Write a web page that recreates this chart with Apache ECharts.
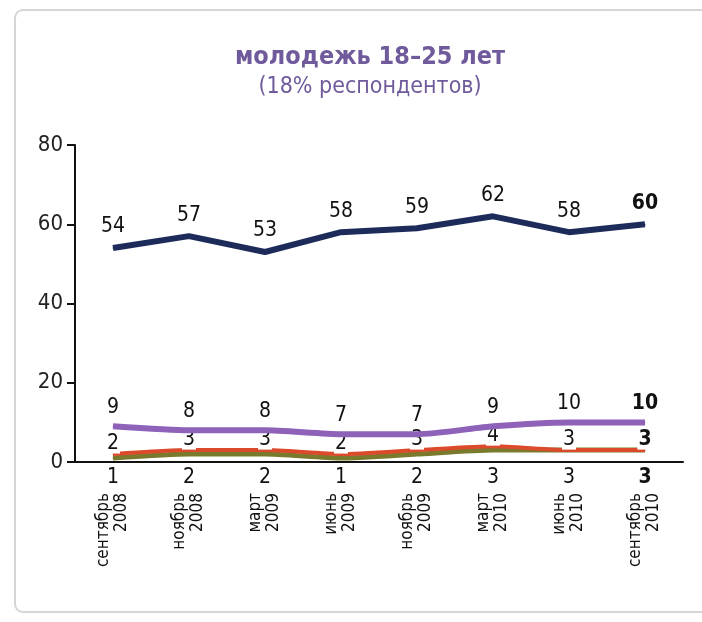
<!DOCTYPE html>
<html>
<head>
<meta charset="utf-8">
<script src="https://cdn.jsdelivr.net/npm/echarts@6/dist/echarts.min.js"></script>
<style>
  html, body { margin: 0; padding: 0; background: #fff; }
  #chart { width: 702px; height: 622px; }
</style>
</head>
<body>
<div id="chart"></div>
<script>
  // опросы, молодежь 18-25 лет
  var months = ['сентябрь\n2008', 'ноябрь\n2008', 'март\n2009', 'июнь\n2009',
                'ноябрь\n2009', 'март\n2010', 'июнь\n2010', 'сентябрь\n2010'];
  var navyVals   = [54, 57, 53, 58, 59, 62, 58, 60];
  var purpleVals = [9, 8, 8, 7, 7, 9, 10, 10];
  var redVals    = [2, 3, 3, 2, 3, 4, 3, 3];
  var oliveVals  = [1, 2, 2, 1, 2, 3, 3, 3];
  var yTicks     = [0, 20, 40, 60, 80];

  var font = '"Liberation Sans Narrow", "DejaVu Sans Condensed", "DejaVu Sans", sans-serif';
  var last = months.length - 1;

  // последняя точка - жирным
  function withBold(arr) {
    return arr.map(function (v, i) {
      return i === last ? { value: v, label: { fontWeight: 'bold' } } : v;
    });
  }

  // подпись у линии видна только если есть символ, поэтому делаем его крошечным
  function lineSeries(name, vals, color, width, label, z, smooth) {
    return {
      name: name,
      type: 'line',
      data: withBold(vals),
      symbol: 'circle',
      symbolSize: 1,
      smooth: smooth,
      itemStyle: { color: color },
      lineStyle: { color: color, width: width },
      label: label,
      z: z
    };
  }

  var chart = echarts.init(document.getElementById('chart'));
  var option = {
    backgroundColor: '#fff',
    animation: false,
    title: {
      text: 'молодежь 18–25 лет',
      subtext: '(18% респондентов)',
      left: 365,
      top: 40,
      textAlign: 'center',
      itemGap: 6,
      textStyle: { fontFamily: font, fontSize: 25, fontWeight: 'bold', color: '#6f5a9c' },
      subtextStyle: { fontFamily: font, fontSize: 23, color: '#6f5a9c' }
    },
    graphic: [{
      type: 'rect',
      shape: { x: 15, y: 10, width: 720, height: 602, r: 8 },
      style: { fill: null, stroke: '#d6d6d6', lineWidth: 2 },
      silent: true
    }],
    grid: { left: 75, right: 19, top: 145, bottom: 160 },
    xAxis: [{
      type: 'category',
      data: months,
      axisLine: { lineStyle: { color: '#111', width: 2 } },
      axisTick: { inside: true, length: 5, lineStyle: { color: '#111', width: 2 } },
      axisLabel: {
        rotate: 90, margin: 31, fontFamily: font, fontSize: 17, lineHeight: 18,
        color: '#111', interval: 0
      }
    }, {
      type: 'category',
      position: 'bottom',
      data: oliveVals.map(String),
      axisLine: { show: false },
      axisTick: { show: false },
      axisLabel: {
        margin: 5, fontFamily: font, fontSize: 21, color: '#111', interval: 0,
        formatter: function (v, i) { return i === last ? '{b|' + v + '}' : v; },
        rich: { b: { fontFamily: font, fontSize: 21, fontWeight: 'bold', color: '#111' } }
      }
    }],
    yAxis: {
      type: 'value',
      min: yTicks[0],
      max: yTicks[yTicks.length - 1],
      interval: 20,
      splitLine: { show: false },
      axisLine: { show: true, lineStyle: { color: '#111', width: 2 } },
      axisTick: { show: true, length: 8, lineStyle: { color: '#111', width: 2 } },
      axisLabel: { margin: 12, fontFamily: font, fontSize: 22, color: '#222' }
    },
    series: [
      lineSeries('olive', oliveVals, '#7a7a2c', 5, { show: false }, 3, 0.2),
      lineSeries('red', redVals, '#dc4a2c', 4, {
        show: true, position: 'top', distance: 0, fontFamily: font, fontSize: 21,
        color: '#111', backgroundColor: '#fff', padding: [0, 1, 0, 1]
      }, 4, 0.2),
      lineSeries('purple', purpleVals, '#8d62b8', 6, {
        show: true, position: 'top', distance: 8, fontFamily: font, fontSize: 21, color: '#111'
      }, 5, 0.2),
      lineSeries('navy', navyVals, '#1d2b5b', 6, {
        show: true, position: 'top', distance: 10, fontFamily: font, fontSize: 21, color: '#111'
      }, 6, false)
    ]
  };
  chart.setOption(option);
</script>
</body>
</html>
